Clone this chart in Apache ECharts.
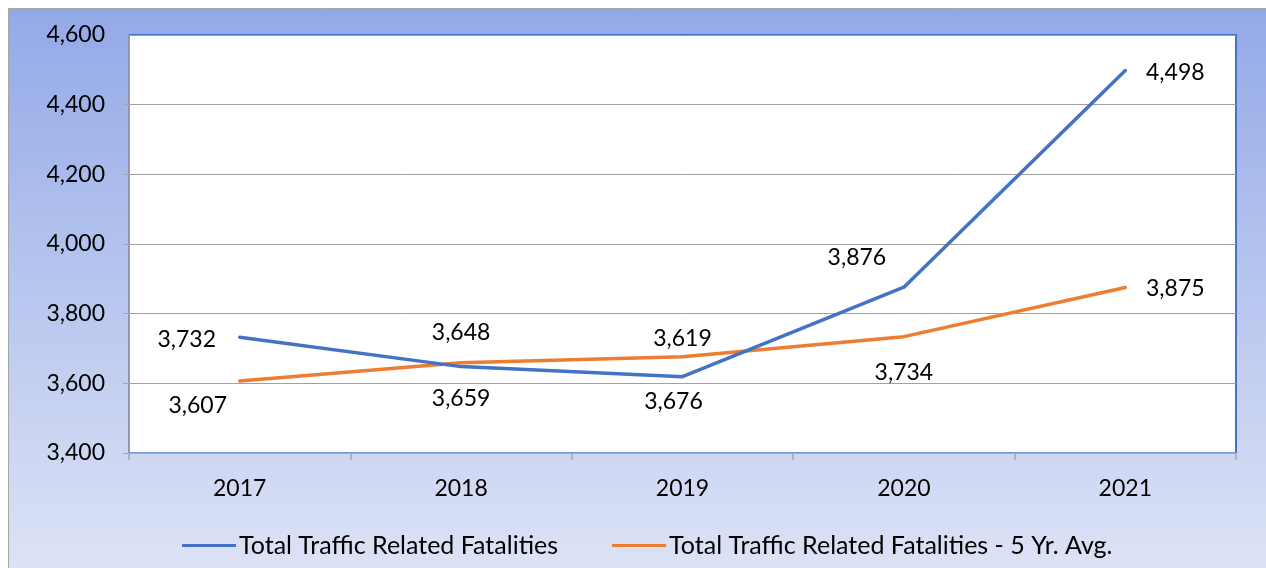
<!DOCTYPE html>
<html>
<head>
<meta charset="utf-8">
<script src="https://cdn.jsdelivr.net/npm/echarts@6/dist/echarts.min.js"></script>
<style>
  html, body { margin: 0; padding: 0; background: #fff; }
  #chart { width: 1266px; height: 568px; }
</style>
</head>
<body>
<div id="chart"></div>
<script>
// data
var years = ['2017', '2018', '2019', '2020', '2021'];
var totalFatalities = [3732, 3648, 3619, 3876, 4498];
var fiveYearAvg = [3607, 3659, 3676, 3734, 3875];
var yTicks = [3400, 3600, 3800, 4000, 4200, 4400, 4600];
var seriesNames = ['Total Traffic Related Fatalities', 'Total Traffic Related Fatalities - 5 Yr. Avg.'];

// label offsets (px) from each point, like the original
var blueOffsets = [[-53, 2], [0, -34], [0, -38], [-47, -30], [50, 2]];
var orangeOffsets = [[-42, 25], [0, 36], [-9, 45], [0, 36], [50, 1]];

var FONT = 'Lato';

function fmt(v) {
  return String(v).replace(/\B(?=(\d{3})+(?!\d))/g, ',');
}

function buildData(vals, offs) {
  var out = [];
  for (var i = 0; i < vals.length; i++) {
    out.push({
      value: vals[i],
      label: { offset: offs[i] }
    });
  }
  return out;
}

var labelBase = {
  show: true,
  position: 'inside',
  align: 'center',
  verticalAlign: 'middle',
  color: '#000',
  fontFamily: FONT,
  fontSize: 23,
  formatter: function (p) { return fmt(p.value); }
};

var myChart = echarts.init(document.getElementById('chart'));
var option = {
  animation: false,
  graphic: [{
    type: 'rect',
    z: -10,
    shape: { x: 8.5, y: 8.5, width: 1270, height: 580 },
    style: {
      fill: new echarts.graphic.LinearGradient(0, 0, 0, 1, [
        { offset: 0, color: '#93a9e7' },
        { offset: 1, color: '#dfe5f6' }
      ]),
      stroke: '#a6a6a6',
      lineWidth: 1
    }
  }],
  grid: {
    left: 129, right: 30, top: 35, bottom: 115,
    show: true,
    backgroundColor: '#fff',
    borderColor: '#4472c4',
    borderWidth: 2
  },
  legend: {
    bottom: 5,
    left: 177,
    itemWidth: 54,
    itemHeight: 3,
    itemGap: 54,
    icon: 'rect',
    textStyle: { fontFamily: FONT, fontSize: 25, color: '#000', padding: [0, 0, 0, -2] },
    data: seriesNames
  },
  xAxis: {
    type: 'category',
    data: years,
    boundaryGap: true,
    axisLine: { lineStyle: { color: '#8faadc', width: 1.5 } },
    axisTick: { show: true, length: 7, lineStyle: { color: '#a6a6a6', width: 1.5 } },
    axisLabel: { color: '#000', fontFamily: FONT, fontSize: 23, margin: 24 },
    splitLine: { show: false }
  },
  yAxis: {
    type: 'value',
    min: yTicks[0],
    max: yTicks[yTicks.length - 1],
    interval: 200,
    axisLine: { show: true, lineStyle: { color: '#a6a6a6', width: 1.5 } },
    axisTick: { show: true, length: 6, lineStyle: { color: '#a6a6a6' } },
    axisLabel: {
      color: '#000', fontFamily: FONT, fontSize: 23, margin: 24,
      formatter: function (v) { return fmt(v); }
    },
    splitLine: { lineStyle: { color: '#a0a0a0', width: 1 } }
  },
  series: [
    {
      name: seriesNames[0],
      type: 'line',
      data: buildData(totalFatalities, blueOffsets),
      symbol: 'circle',
      symbolSize: 1,
      itemStyle: { color: '#4472c4' },
      lineStyle: { color: '#4472c4', width: 3.5, cap: 'round' },
      label: labelBase,
      z: 3
    },
    {
      name: seriesNames[1],
      type: 'line',
      data: buildData(fiveYearAvg, orangeOffsets),
      symbol: 'circle',
      symbolSize: 1,
      itemStyle: { color: '#ed7d31' },
      lineStyle: { color: '#ed7d31', width: 3.5, cap: 'round' },
      label: labelBase,
      z: 2
    }
  ]
};
window.onresize = myChart.resize;
myChart.setOption(option);
</script>
</body>
</html>
